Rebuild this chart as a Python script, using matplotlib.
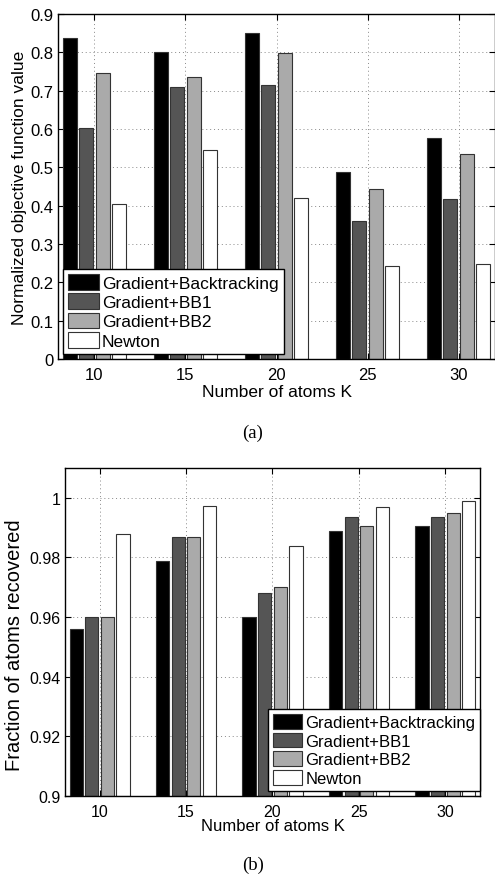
import matplotlib
matplotlib.use("Agg")
import matplotlib.pyplot as plt
import numpy as np

K = [10, 15, 20, 25, 30]
series = ["Gradient+Backtracking", "Gradient+BB1", "Gradient+BB2", "Newton"]
colors = ["#000000", "#555555", "#aaaaaa", "#ffffff"]

obj_backtracking = [0.837, 0.800, 0.850, 0.487, 0.576]
obj_bb1 = [0.602, 0.709, 0.716, 0.361, 0.417]
obj_bb2 = [0.745, 0.735, 0.797, 0.444, 0.534]
obj_newton = [0.405, 0.545, 0.420, 0.243, 0.248]

rec_backtracking = [0.956, 0.9788, 0.960, 0.9888, 0.9907]
rec_bb1 = [0.960, 0.9867, 0.968, 0.9936, 0.9934]
rec_bb2 = [0.960, 0.9867, 0.970, 0.9904, 0.9948]
rec_newton = [0.988, 0.9973, 0.984, 0.9968, 0.9988]

plt.rcParams['font.family'] = ['Liberation Sans', 'DejaVu Sans']

W, H = 495, 878
fig = plt.figure(figsize=(W/100, H/100), dpi=100)

def px_axes(l, t, r, b):
    return fig.add_axes([l/W, 1 - b/H, (r-l)/W, (b-t)/H])

offsets = np.array([-1.35, -0.45, 0.45, 1.35])
bw = 0.77

def draw(ax, data, ylim, yticks, yticklabels, ylabel, legend_bbox, fs, lfs,
         xlfs, ylfs, ylabel_xy, xlabelpad):
    x = np.array(K, dtype=float)
    ax.set_axisbelow(True)
    ax.grid(True, linestyle=(0, (1, 3)), color="#888888", linewidth=0.7)
    handles = []
    for i, vals in enumerate(data):
        h = ax.bar(x + offsets[i], np.array(vals) - ylim[0], bottom=ylim[0], width=bw,
                   color=colors[i], edgecolor="#333333", linewidth=0.8, label=series[i])
        handles.append(h)
    ax.set_xlim(8, 32)
    ax.set_ylim(*ylim)
    ax.set_xticks(K)
    ax.set_yticks(yticks)
    ax.set_yticklabels(yticklabels)
    ax.tick_params(direction="in", top=True, right=True, labelsize=fs, length=4, width=0.8)
    ax.tick_params(axis="x", pad=6)
    ax.tick_params(axis="y", pad=3)
    for s in ax.spines.values():
        s.set_linewidth(1.0)
    ax.set_xlabel("Number of atoms K", fontsize=xlfs, labelpad=xlabelpad)
    ax.set_ylabel(ylabel, fontsize=ylfs)
    ax.yaxis.set_label_coords(*ylabel_xy)
    leg = ax.legend(handles=handles, loc="lower left", bbox_to_anchor=legend_bbox,
                    fontsize=lfs, frameon=True, fancybox=False, borderpad=0.3,
                    labelspacing=0.15, handlelength=1.75, handleheight=1.0,
                    handletextpad=0.2, borderaxespad=0)
    leg.get_frame().set_edgecolor("black")
    leg.get_frame().set_linewidth(1.0)
    leg.get_frame().set_alpha(1)

ax1 = px_axes(58, 15, 495, 360)
draw(ax1, [obj_backtracking, obj_bb1, obj_bb2, obj_newton], (0, 0.9),
     np.arange(0, 0.91, 0.1), ["0", "0.1", "0.2", "0.3", "0.4", "0.5", "0.6", "0.7", "0.8", "0.9"],
     "Normalized objective function value", (0.0114, 0.0145), 12, 12.5,
     12.5, 12.5, (-0.072, 0.5), 1)

ax2 = px_axes(65, 469, 480, 797)
draw(ax2, [rec_backtracking, rec_bb1, rec_bb2, rec_newton], (0.9, 1.01),
     [0.9, 0.92, 0.94, 0.96, 0.98, 1.0], ["0.9", "0.92", "0.94", "0.96", "0.98", "1"],
     "Fraction of atoms recovered", (0.489, 0.015), 11.5, 12,
     12, 14.5, (-0.099, 0.463), -1)

fig.text(253/W, 1 - 433/H, "(a)", ha="center", va="center", fontsize=13.5, family="Liberation Serif")
fig.text(253/W, 1 - 865/H, "(b)", ha="center", va="center", fontsize=13.5, family="Liberation Serif")

fig.savefig("out.png", dpi=100)
